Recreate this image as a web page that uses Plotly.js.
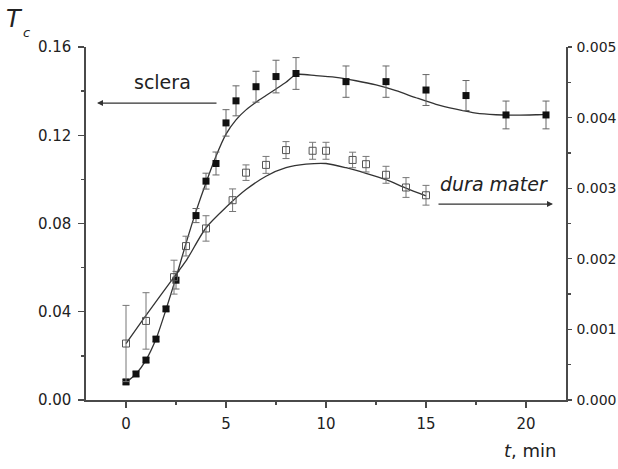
<!DOCTYPE html>
<html>
<head>
<meta charset="utf-8">
<script src="https://cdn.plot.ly/plotly-3.0.1.min.js"></script>
<style>html,body{margin:0;padding:0;background:#fff;}#chart{width:618px;height:469px;}</style>
</head>
<body>
<div id="chart"></div>
<script>
// ---- data ----
// sclera (left axis), measured points
const scleraT   = [0, 0.5, 1, 1.5, 2, 2.5, 3.5, 4, 4.5, 5, 5.5, 6.5, 7.5, 8.5, 11, 13, 15, 17, 19, 21];
const scleraTc  = [0.0082, 0.0118, 0.0181, 0.0276, 0.0413, 0.0543, 0.0836, 0.0992, 0.1072, 0.1256, 0.1356, 0.1420, 0.1466, 0.1480, 0.1443, 0.1443, 0.1405, 0.1380, 0.1292, 0.1292];
const scleraErr = [0.001, 0.001, 0.001, 0.001, 0.001, 0.004, 0.0032, 0.0036, 0.0052, 0.006, 0.0068, 0.007, 0.0074, 0.0072, 0.0071, 0.0071, 0.007, 0.0068, 0.0063, 0.0063];
// sclera fitted curve
const scleraFitT  = [0, 0.5, 1, 1.5, 2, 2.5, 3, 3.5, 4, 4.5, 5, 5.5, 6, 6.5, 7, 7.5, 8, 8.5, 9.5, 10.5, 11.5, 12.5, 13.5, 14.5, 15.5, 16.5, 17.5, 18.5, 19.5, 20.5, 21];
const scleraFitTc = [0.008, 0.0118, 0.0181, 0.0276, 0.041, 0.0555, 0.071, 0.0855, 0.0985, 0.1105, 0.1205, 0.127, 0.1315, 0.135, 0.138, 0.141, 0.144, 0.1475, 0.147, 0.1462, 0.1447, 0.1428, 0.1402, 0.137, 0.134, 0.1318, 0.1300, 0.1293, 0.1291, 0.1293, 0.1295];

// dura mater (right axis), measured points
const duraT   = [0, 1, 2.4, 3, 4, 5.33, 6, 7, 8, 9.33, 10, 11.33, 12, 13, 14, 15];
const duraTc  = [0.00080, 0.00112, 0.00174, 0.00218, 0.00243, 0.00283, 0.00322, 0.00333, 0.00354, 0.00353, 0.00353, 0.00340, 0.00334, 0.00319, 0.00301, 0.00290];
const duraErr = [0.00054, 0.00040, 0.00024, 0.00014, 0.00018, 0.00016, 0.00011, 0.00012, 0.00012, 0.00012, 0.00012, 0.00011, 0.00011, 0.00012, 0.00014, 0.00014];
// dura mater fitted curve
const duraFitT  = [0, 1, 2.4, 3, 4, 5, 6, 7, 8, 9, 10, 11, 12, 13, 14, 15];
const duraFitTc = [0.00080, 0.00120, 0.00174, 0.00197, 0.00244, 0.00273, 0.00298, 0.00317, 0.00329, 0.00334, 0.00335, 0.00329, 0.00321, 0.00312, 0.00300, 0.00289];

// axis ticks
const xTicks      = [0, 5, 10, 15, 20];
const xTickText   = ['0', '5', '10', '15', '20'];
const xTopTicks   = [0, 2.5, 5, 7.5, 10, 12.5, 15, 17.5, 20];
const yLeftTicks  = [0, 0.04, 0.08, 0.12, 0.16];
const yLeftText   = ['0.00', '0.04', '0.08', '0.12', '0.16'];
const yRightTicks = [0, 0.001, 0.002, 0.003, 0.004, 0.005];
const yRightText  = ['0.000', '0.001', '0.002', '0.003', '0.004', '0.005'];

// ---- drawing ----
const FONT = 'DejaVu Sans, Liberation Sans, Arial, sans-serif';
const TXT = '#222';
const AX = '#4a4a4a';

const traces = [
  {x: scleraFitT, y: scleraFitTc, mode: 'lines', line: {color: '#333', width: 1.3, shape: 'spline', smoothing: 0.7}, xaxis: 'x', yaxis: 'y', hoverinfo: 'skip'},
  {x: scleraT, y: scleraTc, mode: 'markers', xaxis: 'x', yaxis: 'y',
   marker: {symbol: 'square', size: 7, color: '#111', line: {width: 0}},
   error_y: {type: 'data', array: scleraErr, visible: true, color: '#666', thickness: 1, width: 3.5}},
  {x: duraFitT, y: duraFitTc, mode: 'lines', line: {color: '#333', width: 1.3, shape: 'spline', smoothing: 0.7}, xaxis: 'x', yaxis: 'y2', hoverinfo: 'skip'},
  {x: duraT, y: duraTc, mode: 'markers', xaxis: 'x', yaxis: 'y2',
   marker: {symbol: 'square-open', size: 7, color: '#555', line: {width: 1}},
   error_y: {type: 'data', array: duraErr, visible: true, color: '#777', thickness: 1, width: 3.5}}
];

const layout = {
  width: 618, height: 469,
  margin: {l: 86, r: 52, t: 47, b: 69, pad: 0},
  paper_bgcolor: '#fff', plot_bgcolor: '#fff',
  showlegend: false,
  font: {family: FONT, size: 15, color: TXT},
  xaxis: {
    range: [-2, 22], tickmode: 'array', tickvals: xTicks, ticktext: xTickText,
    ticks: 'outside', ticklen: 6, tickwidth: 1.3, tickcolor: AX,
    minor: {tickmode: 'array', tickvals: [2.5, 7.5, 12.5, 17.5], ticks: 'outside', ticklen: 3, tickcolor: AX, tickwidth: 1.3},
    showline: true, linecolor: AX, linewidth: 1.6, showgrid: false, zeroline: false,
    tickfont: {family: FONT, size: 15, color: TXT}, ticklabelstandoff: 3
  },
  xaxis2: {
    range: [-2, 22], overlaying: 'x', side: 'top', anchor: 'y',
    tickmode: 'array', tickvals: xTopTicks, ticks: 'inside', ticklen: 5, tickwidth: 1.3, tickcolor: AX,
    showticklabels: false, showline: true, linecolor: AX, linewidth: 1.6, showgrid: false, zeroline: false
  },
  yaxis: {
    range: [0, 0.16], tickmode: 'array', tickvals: yLeftTicks, ticktext: yLeftText,
    ticks: 'outside', ticklen: 6, tickwidth: 1.3, tickcolor: AX,
    minor: {tickmode: 'array', tickvals: [0.02, 0.06, 0.10, 0.14], ticks: 'outside', ticklen: 3, tickcolor: AX, tickwidth: 1.3},
    showline: true, linecolor: AX, linewidth: 1.6, showgrid: false, zeroline: false,
    tickfont: {family: FONT, size: 15, color: TXT}, ticklabelstandoff: 4
  },
  yaxis2: {
    range: [0, 0.005], overlaying: 'y', side: 'right', anchor: 'x',
    tickmode: 'array', tickvals: yRightTicks, ticktext: yRightText,
    ticks: 'outside', ticklen: 4, tickwidth: 1.3, tickcolor: AX,
    minor: {tickmode: 'array', tickvals: [0.0005, 0.0015, 0.0025, 0.0035, 0.0045], ticks: 'outside', ticklen: 3, tickcolor: AX, tickwidth: 1.3},
    showline: true, linecolor: AX, linewidth: 1.6, showgrid: false, zeroline: false,
    tickfont: {family: FONT, size: 14, color: TXT}, ticklabelstandoff: 2
  },
  annotations: [
    // T_c axis label
    {xref: 'paper', yref: 'paper', x: -0.148, y: 1.078, text: '<i>T</i>', showarrow: false,
     font: {family: FONT, size: 24, color: TXT}, xanchor: 'center', yanchor: 'middle'},
    {xref: 'paper', yref: 'paper', x: -0.124, y: 1.042, text: '<i>c</i>', showarrow: false,
     font: {family: FONT, size: 13, color: TXT}, xanchor: 'center', yanchor: 'middle'},
    // x axis label
    {xref: 'paper', yref: 'paper', x: 0.925, y: -0.142, text: '<i>t</i>, min', showarrow: false,
     font: {family: FONT, size: 18, color: TXT}, xanchor: 'center', yanchor: 'middle'},
    // sclera label + arrow
    {xref: 'paper', yref: 'paper', x: 0.160, y: 0.901, text: 'sclera', showarrow: false,
     font: {family: FONT, size: 19, color: TXT}, xanchor: 'center', yanchor: 'middle'},
    {xref: 'x', yref: 'y', x: -1.45, y: 0.1346, axref: 'x', ayref: 'y', ax: 4.6, ay: 0.1346,
     text: '', showarrow: true, arrowhead: 2, arrowsize: 1, arrowwidth: 1.2, arrowcolor: '#333'},
    // dura mater label + arrow
    {xref: 'paper', yref: 'paper', x: 0.850, y: 0.612, text: '<i>dura mater</i>', showarrow: false,
     font: {family: FONT, size: 19, color: TXT}, xanchor: 'center', yanchor: 'middle'},
    {xref: 'x', yref: 'y', x: 21.35, y: 0.0888, axref: 'x', ayref: 'y', ax: 15.55, ay: 0.0888,
     text: '', showarrow: true, arrowhead: 2, arrowsize: 1, arrowwidth: 1.2, arrowcolor: '#333'}
  ]
};

Plotly.newPlot('chart', traces, layout, {staticPlot: true, displayModeBar: false});
</script>
</body>
</html>
